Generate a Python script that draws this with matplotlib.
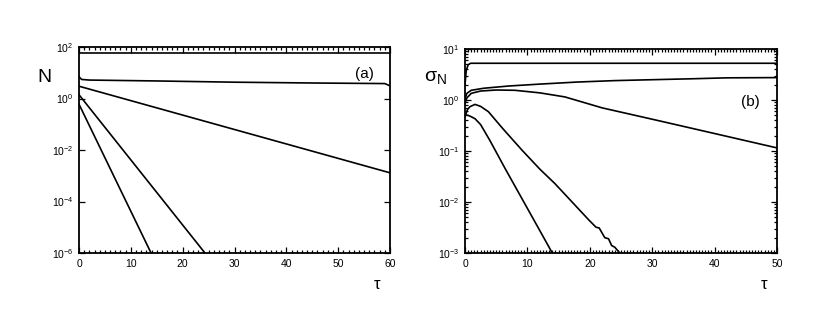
import matplotlib
matplotlib.use('Agg')
import matplotlib.pyplot as plt
from matplotlib.ticker import FixedLocator, MultipleLocator, LogLocator, NullFormatter

plt.rcParams['font.family'] = ['Liberation Sans', 'DejaVu Sans']
plt.rcParams['mathtext.fontset'] = 'custom'
plt.rcParams['mathtext.rm'] = 'Liberation Sans'
plt.rcParams['mathtext.it'] = 'Liberation Sans:italic'

# panel (a): N vs tau
tau_a1 = [0, 60]
N_a1 = [57, 57]
tau_a2 = [0, 0.5, 2, 15, 30, 45, 52, 59, 60]
N_a2 = [7.0, 5.5, 5.2, 4.8, 4.3, 4.0, 3.9, 3.8, 3.1]
tau_a3 = [0, 60]
N_a3 = [3.0, 1.3e-3]
tau_a4 = [0, 24.3]
N_a4 = [1.4, 1e-6]
tau_a5 = [0, 13.9]
N_a5 = [0.6, 1e-6]

# panel (b): sigma_N vs tau
tau_b1 = [0, 0.2, 0.5, 0.9, 50]
s_b1 = [2.0, 3.8, 4.9, 5.25, 5.25]
tau_b2 = [0, 0.3, 1, 3, 7, 12, 18, 24, 30, 36, 42, 50]
s_b2 = [1.05, 1.35, 1.55, 1.7, 1.88, 2.05, 2.25, 2.4, 2.5, 2.6, 2.72, 2.75]
tau_b3 = [0, 0.3, 1, 2.5, 5, 8, 12, 16, 22, 30, 40, 50]
s_b3 = [0.85, 1.1, 1.35, 1.5, 1.57, 1.55, 1.38, 1.15, 0.7, 0.42, 0.22, 0.115]
tau_b4 = [0, 0.4, 0.8, 1.6, 2.5, 3.75, 6, 9.1, 12, 14.4, 17, 19.8, 21, 21.5, 22.4, 23, 23.5, 24, 24.8]
s_b4 = [0.47, 0.65, 0.74, 0.82, 0.75, 0.59, 0.28, 0.105, 0.044, 0.023, 0.0105, 0.0045,
        0.0032, 0.0031, 0.0020, 0.0019, 0.0014, 0.0013, 0.001]
tau_b5 = [0, 0.5, 1, 1.6, 2.5, 4, 6.4, 9.1, 11.75, 13.8, 13.9]
s_b5 = [0.51, 0.5, 0.47, 0.43, 0.33, 0.16, 0.046, 0.0118, 0.0031, 0.0011, 0.001]

fig = plt.figure(figsize=(8.3, 3.26), dpi=100)
ax1 = fig.add_axes([79/830, 73/326, 311/830, 206/326])
ax2 = fig.add_axes([465/830, 73/326, 312/830, 204/326])

lw = 1.2
for t, n in [(tau_a1, N_a1), (tau_a2, N_a2), (tau_a3, N_a3), (tau_a4, N_a4), (tau_a5, N_a5)]:
    ax1.semilogy(t, n, color='black', lw=lw)
for t, s in [(tau_b1, s_b1), (tau_b2, s_b2), (tau_b3, s_b3), (tau_b4, s_b4), (tau_b5, s_b5)]:
    ax2.semilogy(t, s, color='black', lw=lw)

ax1.set_xlim(0, 60)
ax1.set_ylim(1e-6, 1e2)
ax1.xaxis.set_major_locator(MultipleLocator(10))
ax1.xaxis.set_minor_locator(MultipleLocator(1))
ax1.yaxis.set_major_locator(FixedLocator([1e-6, 1e-4, 1e-2, 1e0, 1e2]))
ax1.yaxis.set_minor_locator(FixedLocator([]))
ax1.set_yticklabels([r'10$^{-6}$', r'10$^{-4}$', r'10$^{-2}$', r'10$^{0}$', r'10$^{2}$'])

ax2.set_xlim(0, 50)
ax2.set_ylim(1e-3, 1e1)
ax2.xaxis.set_major_locator(MultipleLocator(10))
ax2.xaxis.set_minor_locator(MultipleLocator(0.5))
ax2.yaxis.set_major_locator(FixedLocator([1e-3, 1e-2, 1e-1, 1e0, 1e1]))
ax2.yaxis.set_minor_locator(LogLocator(base=10, subs=range(2, 10)))
ax2.yaxis.set_minor_formatter(NullFormatter())
ax2.set_yticklabels([r'10$^{-3}$', r'10$^{-2}$', r'10$^{-1}$', r'10$^{0}$', r'10$^{1}$'])

for ax in (ax1, ax2):
    for sp in ax.spines.values():
        sp.set_linewidth(1.3)
    ax.tick_params(which='both', direction='in', top=True, right=True, labelsize=7.5, width=0.9)
    ax.tick_params(which='major', length=4, pad=4)
    ax.tick_params(which='minor', length=2)

ax1.text(-0.11, 0.85, 'N', transform=ax1.transAxes, fontsize=14, ha='center', va='center')
ax1.text(0.96, -0.155, 'τ', transform=ax1.transAxes, fontsize=12, ha='center', va='center')
ax1.text(0.918, 0.87, '(a)', transform=ax1.transAxes, fontsize=11, ha='center', va='center')

ax2.text(-0.095, 0.86, r'σ$_{\rm N}$', transform=ax2.transAxes, fontsize=14, ha='center', va='center')
ax2.text(0.96, -0.155, 'τ', transform=ax2.transAxes, fontsize=12, ha='center', va='center')
ax2.text(0.915, 0.74, '(b)', transform=ax2.transAxes, fontsize=11, ha='center', va='center')

fig.savefig('out.png', dpi=100)
